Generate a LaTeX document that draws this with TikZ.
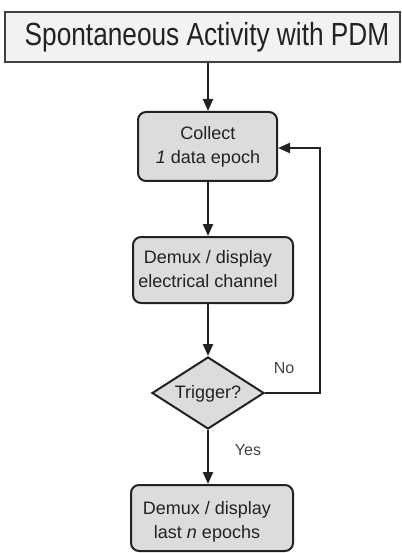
\documentclass[tikz,border=0pt]{standalone}
\usepackage{fontspec}
\setmainfont{Liberation Sans}
\usetikzlibrary{shapes.geometric,arrows.meta}
\definecolor{boxfill}{HTML}{DCDCDC}
\definecolor{titlefill}{HTML}{F2F2F2}
\definecolor{ink}{HTML}{222222}
\begin{document}
\begin{tikzpicture}[x=1pt,y=-1pt,
  boxstyle/.style={draw=ink,line width=2pt,fill=boxfill,rounded corners=8pt,inner sep=0pt},
  txt/.style={text=ink,font=\fontsize{18}{24}\selectfont,align=center,inner sep=0pt},
  conn/.style={draw=ink,line width=2pt,-{Triangle[width=10pt,length=12pt]}},
  lbl/.style={text=ink!85,font=\fontsize{16}{18}\selectfont,inner sep=0pt}]
\useasboundingbox (0,0) rectangle (401,553);
% title
\node[draw=black!75,line width=2.2pt,fill=titlefill,minimum width=395pt,minimum height=50pt,inner sep=0pt] (title) at (202.5,37) {};
\node[text=ink,font=\fontsize{32}{36}\selectfont,inner sep=0pt] (titletext) at (207,37) {\scalebox{0.82}[1]{Spontaneous Activity with PDM}};
% boxes
\node[boxstyle,minimum width=139pt,minimum height=69pt] (collect) at (207.5,146.5) {};
\node[txt] (collecttext) at (208,147) {Collect\\\textit{1} data epoch};
\node[boxstyle,minimum width=160pt,minimum height=66pt] (demux) at (213,270) {};
\node[txt] (demuxtext) at (208,269) {Demux / display\\electrical channel};
\node[draw=ink,line width=2pt,fill=boxfill,diamond,minimum width=112pt,minimum height=72pt,inner sep=0pt] (trigger) at (208,393) {};
\node[txt] (triggertext) at (208,394) {Trigger?};
\node[boxstyle,minimum width=162pt,minimum height=66pt] (last) at (212,518) {};
\node[txt] (lasttext) at (207,522) {Demux / display\\last \textit{n} epochs};
% connectors
\coordinate (c1) at (208,0);
\draw[conn] (title.south -| c1) -- (collect.north -| c1);
\draw[conn] (collect.south -| c1) -- (demux.north -| c1);
\draw[conn] (demux.south -| c1) -- (trigger.north);
\draw[conn] (trigger.south) -- (last.north -| c1);
\coordinate (fb) at (320,148);
\draw[conn] (trigger.east) -| (fb) -- (collect.east |- fb);
% labels
\node[lbl] (no) at (284,368) {No};
\node[lbl] (yes) at (248,450) {Yes};
\end{tikzpicture}
\end{document}
